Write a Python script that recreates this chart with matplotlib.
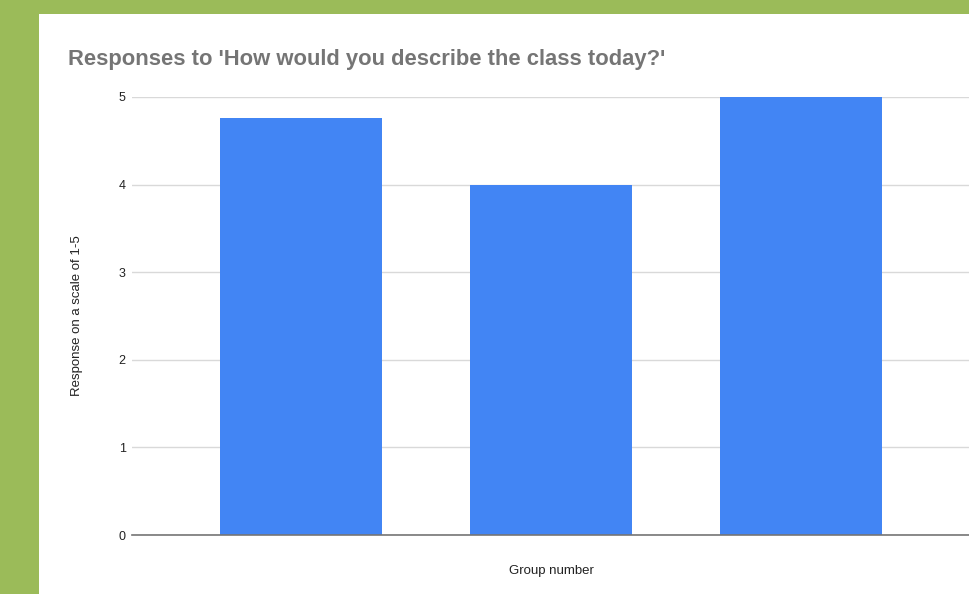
import matplotlib
matplotlib.use("Agg")
import matplotlib.pyplot as plt
from matplotlib.patches import Rectangle

plt.rcParams["font.family"] = ["Liberation Sans", "DejaVu Sans"]

groups = ["1", "2", "3"]
responses = [4.76, 4.0, 5.0]
yticks = [0, 1, 2, 3, 4, 5]

W, H = 970, 594
fig = plt.figure(figsize=(W / 100, H / 100), dpi=100)
fig.patch.set_facecolor("#9bbb59")
# white card on the green background
fig.patches.append(Rectangle((39 / W, 0), 1 - 39 / W, 1 - 14 / H,
                             transform=fig.transFigure, facecolor="white",
                             edgecolor="none", zorder=-1))

ax = fig.add_axes([132 / W, 1 - 535 / H, (970 - 132) / W, (535 - 97) / H])
ax.set_zorder(2)
ax.set_facecolor("none")
x = range(len(groups))
ax.bar(x, responses, width=0.65, color="#4285f4", zorder=3)
ax.set_xlim(-0.676, 2.676)
ax.set_ylim(0, 5)
ax.set_yticks(yticks)
ax.set_xticks([])
ax.grid(axis="y", color="#d9d9d9", lw=1, zorder=0)
for s in ["top", "right", "left"]:
    ax.spines[s].set_visible(False)
ax.spines["bottom"].set_color("#757575")
ax.spines["bottom"].set_linewidth(1.2)
ax.spines["bottom"].set_zorder(4)
ax.tick_params(axis="y", length=0, pad=4.5, labelsize=9, labelcolor="#222222")
ax.set_ylabel("Response on a scale of 1-5", fontsize=9.5, color="#222222")
ax.yaxis.set_label_coords((83 - 132) / (970 - 132), 0.5)

fig.text(551 / W, 1 - 571 / H, "Group number", ha="center", va="center",
         fontsize=9.5, color="#222222", zorder=3)
fig.text(68 / W, 1 - 59 / H, "Responses to 'How would you describe the class today?'",
         ha="left", va="center", fontsize=15.8, fontweight="bold", color="#757575", zorder=3)

fig.savefig("out.png", dpi=100, facecolor=fig.get_facecolor())
